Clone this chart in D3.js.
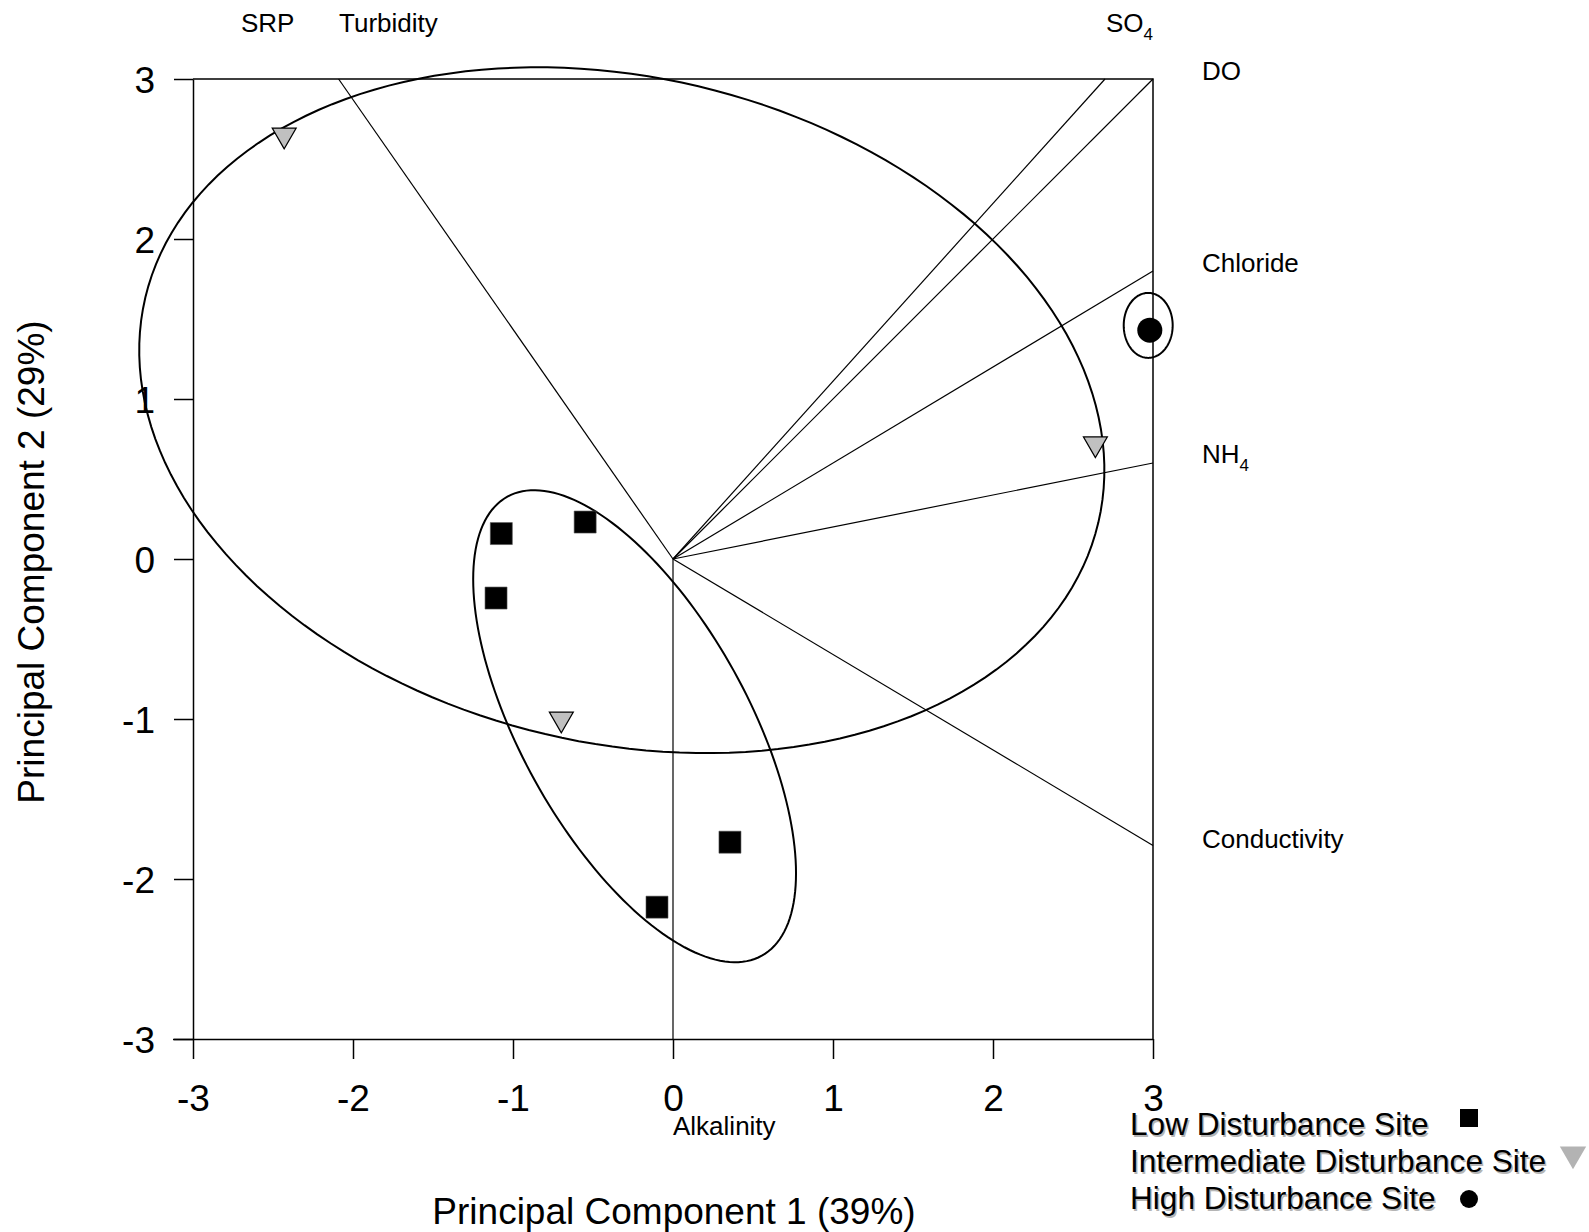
<!DOCTYPE html>
<html>
<head>
<meta charset="utf-8">
<script src="https://cdn.jsdelivr.net/npm/d3@7"></script>
<style>
  body { margin: 0; background: #fff; }
  text { font-family: "Liberation Sans", Arial, sans-serif; fill: #000; }
</style>
</head>
<body>
<div id="chart"></div>
<script>
// site scores (PC1, PC2)
const lowPC1 = [-1.073, -0.549, -1.106, 0.356, -0.10];
const lowPC2 = [0.159, 0.231, -0.244, -1.77, -2.176];
const midPC1 = [-2.43, -0.698, 2.64];
const midPC2 = [2.65, -1.0, 0.72];
const highPC1 = [2.98];
const highPC2 = [1.43];

// variable loadings (vector end points)
const varNames = ['Turbidity', 'SO4', 'DO', 'Chloride', 'NH4', 'Conductivity', 'Alkalinity'];
const varPC1 = [-2.09, 2.70, 3, 3, 3, 3, 0];
const varPC2 = [3, 3, 3, 1.80, 0.60, -1.79, -3];

// group ellipses: intermediate, low, high
const ellCx = [-0.32, -0.24, 2.97];
const ellCy = [0.93, -1.045, 1.46];
const ellRx = [3.06, 1.64, 0.153];
const ellRy = [2.08, 0.71, 0.203];
const ellAngle = [-13.3, -61, 0];

const xTicks = [-3, -2, -1, 0, 1, 2, 3];
const yTicks = [-3, -2, -1, 0, 1, 2, 3];

const width = 1589, height = 1232;
const plot = {left: 193, right: 1153, top: 79, bottom: 1039};

const svg = d3.select('#chart').append('svg')
    .attr('width', width)
    .attr('height', height);

const x = d3.scaleLinear().domain([-3, 3]).range([plot.left, plot.right]);
const y = d3.scaleLinear().domain([-3, 3]).range([plot.bottom, plot.top]);

// frame (top and right)
svg.append('path')
    .attr('d', `M${x(-3)},${y(3)}H${x(3)}V${y(-3)}`)
    .attr('fill', 'none').attr('stroke', '#000').attr('stroke-width', 1.5);

// axes, plain hyphen for negatives like the original
const fmt = d => String(d);
const xAxisG = svg.append('g')
    .attr('transform', `translate(0,${plot.bottom})`)
    .call(d3.axisBottom(x).tickValues(xTicks).tickSize(20).tickSizeOuter(0).tickFormat(fmt));
const yAxisG = svg.append('g')
    .attr('transform', `translate(${plot.left},0)`)
    .call(d3.axisLeft(y).tickValues(yTicks).tickSize(19).tickSizeOuter(0).tickFormat(fmt));

[xAxisG, yAxisG].forEach(g => {
    g.selectAll('path, line').attr('stroke', '#000').attr('stroke-width', 1.5);
    g.selectAll('text').attr('font-size', 37).attr('font-family', '"Liberation Sans", Arial, sans-serif').attr('fill', '#000');
});
xAxisG.selectAll('.tick text').attr('y', 46).attr('dy', '0.71em');
yAxisG.selectAll('text').attr('x', -38).attr('dy', '0.36em');
xAxisG.select('.domain').attr('d', `M${plot.left - 20},0.5H${plot.right}`);

// axis titles
svg.append('text')
    .attr('x', 674).attr('y', 1224)
    .attr('text-anchor', 'middle').attr('font-size', 37)
    .text('Principal Component 1 (39%)');
svg.append('text')
    .attr('transform', `translate(44,562) rotate(-90)`)
    .attr('text-anchor', 'middle').attr('font-size', 37)
    .text('Principal Component 2 (29%)');

// loading vectors
svg.append('g').selectAll('line')
    .data(varNames.map((n, i) => ({n, px: varPC1[i], py: varPC2[i]})))
    .join('line')
    .attr('x1', x(0)).attr('y1', y(0))
    .attr('x2', d => x(d.px)).attr('y2', d => y(d.py))
    .attr('stroke', '#000').attr('stroke-width', 1.2);

// vector labels
const labels = [
    {t: 'SRP', x: 241, y: 32},
    {t: 'Turbidity', x: 339, y: 32},
    {t: 'SO', sub: '4', x: 1106, y: 32},
    {t: 'DO', x: 1202, y: 80},
    {t: 'Chloride', x: 1202, y: 272},
    {t: 'NH', sub: '4', x: 1202, y: 463},
    {t: 'Conductivity', x: 1202, y: 848},
    {t: 'Alkalinity', x: 673, y: 1135}
];
labels.forEach(l => {
    const t = svg.append('text').attr('x', l.x).attr('y', l.y).attr('font-size', 26);
    t.append('tspan').text(l.t);
    if (l.sub) t.append('tspan').attr('font-size', 17).attr('dy', 8).text(l.sub);
});

// ellipses
const ellLine = d3.line().curve(d3.curveLinearClosed);
const angles = d3.range(0, 360, 2).map(a => a * Math.PI / 180);
svg.append('g').selectAll('path')
    .data(ellCx.map((cx, i) => ({cx, cy: ellCy[i], rx: ellRx[i], ry: ellRy[i], a: ellAngle[i] * Math.PI / 180})))
    .join('path')
    .attr('d', e => ellLine(angles.map(t => {
        const u = e.rx * Math.cos(t), v = e.ry * Math.sin(t);
        return [x(e.cx + u * Math.cos(e.a) - v * Math.sin(e.a)), y(e.cy + u * Math.sin(e.a) + v * Math.cos(e.a))];
    })))
    .attr('fill', 'none').attr('stroke', '#000').attr('stroke-width', 2);

// site points
const sq = d3.symbol(d3.symbolSquare, 484)();
const tri = d3.symbol(d3.symbolTriangle, 249)();
const circ = d3.symbol(d3.symbolCircle, 491)();

svg.append('g').selectAll('path')
    .data(lowPC1.map((v, i) => [v, lowPC2[i]]))
    .join('path')
    .attr('d', sq)
    .attr('transform', d => `translate(${x(d[0])},${y(d[1])})`)
    .attr('fill', '#000').attr('stroke', '#555').attr('stroke-width', 0.6);

svg.append('g').selectAll('path')
    .data(midPC1.map((v, i) => [v, midPC2[i]]))
    .join('path')
    .attr('d', tri)
    .attr('transform', d => `translate(${x(d[0])},${y(d[1])}) rotate(180)`)
    .attr('fill', '#c0c0c0').attr('stroke', '#000').attr('stroke-width', 1.2);

svg.append('g').selectAll('path')
    .data(highPC1.map((v, i) => [v, highPC2[i]]))
    .join('path')
    .attr('d', circ)
    .attr('transform', d => `translate(${x(d[0])},${y(d[1])})`)
    .attr('fill', '#000');

// legend
const legend = [
    {t: 'Low Disturbance Site', y: 1135, sym: d3.symbol(d3.symbolSquare, 324)(), mx: 1469, my: 1118, fill: '#000', rot: 0},
    {t: 'Intermediate Disturbance Site', y: 1172, sym: d3.symbol(d3.symbolTriangle, 300)(), mx: 1573, my: 1154, fill: '#b3b3b3', rot: 180},
    {t: 'High Disturbance Site', y: 1209, sym: d3.symbol(d3.symbolCircle, 254)(), mx: 1469, my: 1199, fill: '#000', rot: 0}
];
const lg = svg.append('g');
legend.forEach(l => {
    lg.append('text').attr('x', 1131.5).attr('y', l.y + 1.5).attr('font-size', 31.6)
        .style('fill', '#b5b5b5').text(l.t);
    lg.append('text').attr('x', 1130).attr('y', l.y).attr('font-size', 31.6).text(l.t);
    lg.append('path').attr('d', l.sym)
        .attr('transform', `translate(${l.mx},${l.my}) rotate(${l.rot})`)
        .attr('fill', l.fill);
});
</script>
</body>
</html>
